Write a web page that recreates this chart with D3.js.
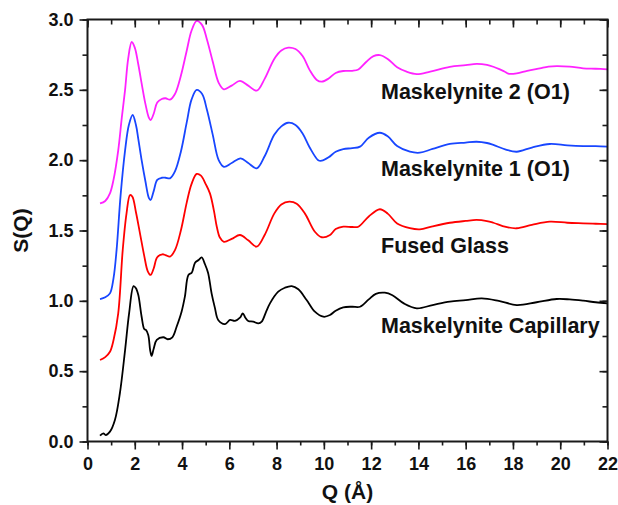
<!DOCTYPE html>
<html><head><meta charset="utf-8">
<script src="https://cdn.jsdelivr.net/npm/d3@7"></script>
<style>body{margin:0;background:#fff}svg{display:block}</style>
</head><body>
<svg id="c" width="618" height="505"></svg>
<script>
const xTicks = [0,2,4,6,8,10,12,14,16,18,20,22];
const yTicks = [0.0,0.5,1.0,1.5,2.0,2.5,3.0];
const seriesNames = ["Maskelynite Capillary","Fused Glass","Maskelynite 1 (O1)","Maskelynite 2 (O1)"];

const capillary = [[0.53,0.041],[0.67,0.058],[0.77,0.046],[0.95,0.07],[1.16,0.153],[1.37,0.343],[1.59,0.65],[1.76,0.911],[1.95,1.105],[2.05,1.09],[2.15,1.041],[2.29,0.887],[2.4,0.8],[2.47,0.793],[2.57,0.757],[2.65,0.65],[2.71,0.608],[2.8,0.66],[2.93,0.722],[3.21,0.741],[3.39,0.727],[3.59,0.741],[3.77,0.816],[3.98,0.923],[4.12,1.03],[4.27,1.184],[4.41,1.2],[4.55,1.271],[4.7,1.29],[4.83,1.309],[4.97,1.26],[5.1,1.2],[5.25,1.053],[5.39,0.95],[5.53,0.864],[5.82,0.835],[6.03,0.864],[6.24,0.857],[6.45,0.88],[6.57,0.911],[6.68,0.88],[6.8,0.857],[7.01,0.852],[7.23,0.84],[7.37,0.852],[7.55,0.92],[7.72,0.982],[8.07,1.065],[8.35,1.093],[8.64,1.105],[8.92,1.082],[9.27,1.006],[9.62,0.923],[9.98,0.887],[10.26,0.899],[10.5,0.93],[10.82,0.954],[11.2,0.958],[11.53,0.958],[11.9,1.01],[12.2,1.05],[12.58,1.058],[12.9,1.04],[13.4,0.98],[13.93,0.947],[14.6,0.97],[15.33,0.994],[16.0,1.005],[16.68,1.018],[17.4,1.0],[18.16,0.97],[19.0,0.99],[19.85,1.013],[20.4,1.01],[20.97,1.001],[21.5,0.99],[22,0.982]];

const fused = [[0.53,0.579],[0.75,0.6],[0.95,0.638],[1.1,0.72],[1.3,0.911],[1.49,1.361],[1.65,1.62],[1.8,1.752],[1.9,1.74],[2.05,1.63],[2.22,1.48],[2.4,1.32],[2.55,1.21],[2.67,1.184],[2.8,1.23],[2.95,1.31],[3.17,1.331],[3.3,1.325],[3.49,1.314],[3.7,1.36],[3.95,1.5],[4.2,1.7],[4.4,1.83],[4.62,1.902],[4.8,1.89],[5.0,1.83],[5.18,1.764],[5.35,1.64],[5.47,1.527],[5.6,1.45],[5.77,1.42],[6.1,1.44],[6.45,1.468],[6.8,1.43],[7.16,1.385],[7.5,1.47],[7.9,1.62],[8.2,1.685],[8.54,1.705],[8.85,1.69],[9.2,1.62],[9.62,1.491],[9.91,1.452],[10.26,1.468],[10.5,1.51],[10.82,1.527],[11.2,1.525],[11.46,1.527],[11.9,1.6],[12.37,1.651],[12.7,1.62],[13.1,1.55],[13.64,1.516],[14.06,1.508],[14.6,1.53],[15.33,1.555],[16.0,1.568],[16.46,1.575],[16.9,1.567],[17.17,1.555],[17.7,1.525],[18.16,1.516],[18.8,1.54],[19.56,1.563],[20.3,1.555],[20.97,1.551],[21.5,1.548],[22,1.546]];

const mask1 = [[0.53,1.013],[0.75,1.025],[0.95,1.053],[1.1,1.16],[1.23,1.361],[1.4,1.75],[1.59,2.07],[1.75,2.25],[1.91,2.321],[2.05,2.25],[2.15,2.15],[2.29,2.0],[2.45,1.85],[2.6,1.73],[2.67,1.717],[2.8,1.78],[2.95,1.86],[3.14,1.875],[3.3,1.875],[3.49,1.871],[3.7,1.92],[3.95,2.06],[4.2,2.27],[4.4,2.43],[4.62,2.499],[4.85,2.47],[5.05,2.36],[5.3,2.18],[5.55,2.0],[5.77,1.953],[6.1,1.98],[6.48,2.013],[6.8,1.98],[7.16,1.942],[7.5,2.03],[7.9,2.18],[8.2,2.24],[8.49,2.266],[8.8,2.25],[9.1,2.19],[9.4,2.09],[9.76,2.0],[9.91,1.996],[10.2,2.02],[10.5,2.06],[10.82,2.079],[11.2,2.085],[11.53,2.096],[11.9,2.16],[12.37,2.195],[12.7,2.17],[13.1,2.1],[13.64,2.06],[14.06,2.053],[14.6,2.08],[15.33,2.115],[16.0,2.125],[16.46,2.131],[16.9,2.122],[17.17,2.108],[17.7,2.075],[18.16,2.06],[18.8,2.09],[19.56,2.115],[20.3,2.105],[20.97,2.1],[21.5,2.1],[22,2.096]];

const mask2 = [[0.53,1.693],[0.75,1.71],[0.95,1.764],[1.1,1.86],[1.3,2.07],[1.45,2.3],[1.59,2.5],[1.72,2.72],[1.87,2.84],[2.0,2.8],[2.15,2.68],[2.29,2.546],[2.45,2.4],[2.6,2.3],[2.67,2.285],[2.8,2.33],[2.95,2.41],[3.14,2.435],[3.3,2.44],[3.49,2.43],[3.7,2.47],[3.95,2.6],[4.2,2.78],[4.4,2.92],[4.62,2.99],[4.85,2.96],[5.05,2.86],[5.3,2.7],[5.55,2.55],[5.77,2.504],[6.1,2.53],[6.45,2.563],[6.8,2.53],[7.16,2.494],[7.5,2.58],[7.9,2.72],[8.2,2.78],[8.49,2.8],[8.8,2.79],[9.1,2.74],[9.4,2.64],[9.7,2.57],[9.91,2.558],[10.2,2.58],[10.5,2.62],[10.82,2.634],[11.2,2.635],[11.46,2.645],[11.8,2.7],[12.1,2.74],[12.37,2.747],[12.7,2.72],[13.1,2.66],[13.5,2.629],[13.93,2.612],[14.5,2.63],[15.33,2.664],[16.0,2.675],[16.46,2.684],[16.9,2.677],[17.17,2.664],[17.45,2.645],[17.66,2.629],[17.8,2.615],[18.16,2.617],[18.6,2.635],[19.14,2.653],[19.5,2.665],[19.85,2.669],[20.4,2.665],[20.97,2.653],[21.5,2.65],[22,2.646]];

const seriesData = [capillary, fused, mask1, mask2];
const seriesColors = ["#000000","#ff0000","#1846ff","#ff22ff"];

const L = 87.5, R = 607.5, T = 19.5, B = 441.5;
const svg = d3.select("#c");
const x = d3.scaleLinear().domain([0,22]).range([L,R]);
const y = d3.scaleLinear().domain([0,3]).range([B,T]);
const font = "'Liberation Sans', Arial, sans-serif";

svg.append("defs").append("clipPath").attr("id","clip")
  .append("rect").attr("x",L).attr("y",T).attr("width",R-L).attr("height",B-T);

const line = d3.line().x(d=>x(d[0])).y(d=>y(d[1])).curve(d3.curveCatmullRom.alpha(0.5));
const g = svg.append("g").attr("clip-path","url(#clip)");
seriesData.forEach((s,i)=>{
  g.append("path").attr("d",line(s)).attr("fill","none")
   .attr("stroke",seriesColors[i]).attr("stroke-width",1.8).attr("stroke-linejoin","round");
});

const minorX = d3.range(0,22.01,1);
const minorY = d3.range(0,3.01,0.25);
function styleAxis(sel){
  sel.select(".domain").remove();
  sel.selectAll(".tick line").attr("stroke","#1a1a1a").attr("stroke-width",1.6);
  sel.selectAll(".tick text").attr("font-family",font).attr("font-weight","bold").attr("font-size","18px").attr("fill","#111");
}
// bottom
svg.append("g").attr("transform",`translate(0,${B})`).call(d3.axisBottom(x).tickValues(minorX).tickSize(4).tickFormat(""))
  .call(styleAxis);
svg.append("g").attr("transform",`translate(0,${B})`).call(d3.axisBottom(x).tickValues(xTicks).tickSize(8).tickPadding(8).tickFormat(d3.format("d")))
  .call(styleAxis);
// top
svg.append("g").attr("transform",`translate(0,${T})`).call(d3.axisBottom(x).tickValues(minorX).tickSize(5).tickFormat("")).call(styleAxis);
svg.append("g").attr("transform",`translate(0,${T})`).call(d3.axisBottom(x).tickValues(xTicks).tickSize(8).tickFormat("")).call(styleAxis);
// left
svg.append("g").attr("transform",`translate(${L},0)`).call(d3.axisLeft(y).tickValues(minorY).tickSize(5).tickFormat("")).call(styleAxis);
svg.append("g").attr("transform",`translate(${L},0)`).call(d3.axisLeft(y).tickValues(yTicks).tickSize(8).tickPadding(6).tickFormat(d3.format(".1f"))).call(styleAxis);
// right
svg.append("g").attr("transform",`translate(${R},0)`).call(d3.axisLeft(y).tickValues(minorY).tickSize(5).tickFormat("")).call(styleAxis);
svg.append("g").attr("transform",`translate(${R},0)`).call(d3.axisLeft(y).tickValues(yTicks).tickSize(8).tickFormat("")).call(styleAxis);

svg.append("rect").attr("x",L).attr("y",T).attr("width",R-L).attr("height",B-T)
  .attr("fill","none").attr("stroke","#1a1a1a").attr("stroke-width",2);

// labels
const labelPos = [[381,333],[381,253],[381,176],[381,99]];
seriesNames.forEach((n,i)=>{
  svg.append("text").attr("x",labelPos[i][0]).attr("y",labelPos[i][1]).text(n)
    .attr("font-family",font).attr("font-weight","bold").attr("font-size","21.5px").attr("fill","#111");
});

svg.append("text").attr("x",(L+R)/2).attr("y",499).attr("text-anchor","middle").text("Q (Å)")
  .attr("font-family",font).attr("font-weight","bold").attr("font-size","21px").attr("fill","#111");
svg.append("text").attr("transform",`translate(28,${(T+B)/2}) rotate(-90)`).attr("text-anchor","middle").text("S(Q)")
  .attr("font-family",font).attr("font-weight","bold").attr("font-size","21px").attr("fill","#111");
</script>
</body></html>
